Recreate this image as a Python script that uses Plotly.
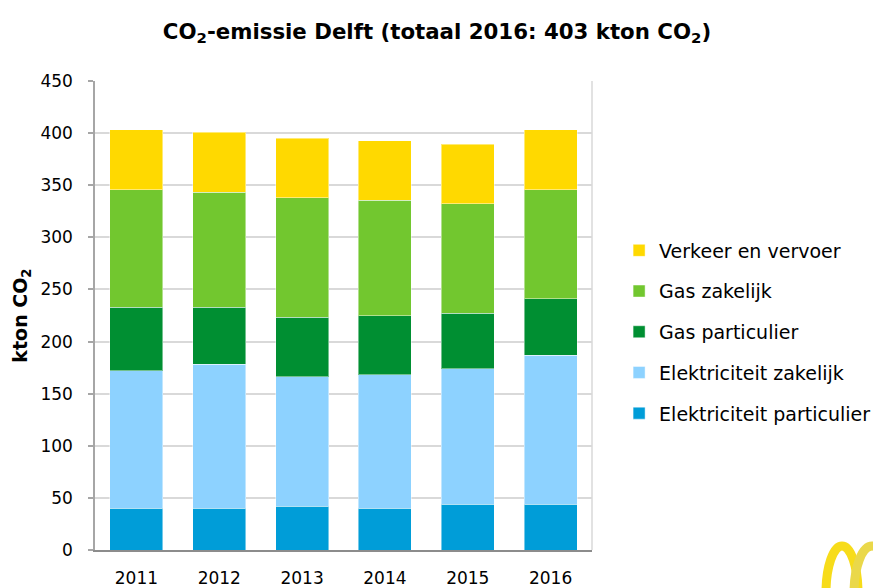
import plotly.graph_objects as go

years = ["2011", "2012", "2013", "2014", "2015", "2016"]
elek_part = [40, 40, 42, 40, 44, 44]
elek_zak = [132, 138, 124, 128, 130, 143]
gas_part = [61, 55, 57.5, 57, 53, 54]
gas_zak = [112.5, 110.5, 114.5, 110.5, 105, 104.5]
verkeer = [57.5, 57.5, 57, 57, 57.5, 57.5]

series = [
    ("Elektriciteit particulier", elek_part, "#009DD8"),
    ("Elektriciteit zakelijk", elek_zak, "#8DD2FF"),
    ("Gas particulier", gas_part, "#008F32"),
    ("Gas zakelijk", gas_zak, "#72C72F"),
    ("Verkeer en vervoer", verkeer, "#FFD900"),
]

FONT = "DejaVu Sans"

fig = go.Figure()
n = len(series)
for i, (name, vals, col) in enumerate(series):
    fig.add_trace(go.Bar(
        x=years, y=vals, name=name, legendgroup=f"g{i}", legendrank=(n - i) * 10,
        marker=dict(color=col, line=dict(color="rgba(255,255,255,0.45)", width=1)),
    ))

fig.update_layout(
    width=873, height=580,
    barmode="stack", bargap=0.36,
    plot_bgcolor="white", paper_bgcolor="white",
    margin=dict(l=87, r=289, t=73, b=38),
    font=dict(family=FONT, size=16, color="#000000"),
    title=dict(
        text="<b>CO<sub>2</sub>-emissie Delft (totaal 2016: 403 kton CO<sub>2</sub>)</b>",
        x=0.4914, xref="container", xanchor="center", y=0.960, yanchor="middle",
        font=dict(family=FONT, size=21.3, color="#000000"),
    ),
    legend=dict(
        xref="container", yref="container",
        x=0.700, xanchor="left", y=1 - 324.0 / 580, yanchor="middle",
        traceorder="grouped", tracegroupgap=13,
        font=dict(family=FONT, size=19, color="#000000"),
        itemwidth=30,
    ),
    showlegend=True,
)
fig.update_xaxes(
    automargin=False,
    showline=True, linecolor="#8C8C8C", linewidth=2,
    ticks="", ticklabelstandoff=12,
    tickfont=dict(family=FONT, size=17),
    mirror=False,
)
fig.update_yaxes(
    automargin=False,
    range=[0, 450], dtick=50, tick0=0,
    showgrid=True, gridcolor="#D9D9D9", gridwidth=1.5,
    showline=True, linecolor="#A6A6A6", linewidth=1.5,
    ticks="outside", ticklen=5, tickcolor="#A6A6A6", tickwidth=1.5,
    ticklabelstandoff=12,
    tickfont=dict(family=FONT, size=17),
    title=dict(text="<b>kton CO<sub>2</sub></b>", font=dict(family=FONT, size=19), standoff=8),
    zeroline=False,
)
fig.add_shape(type="line", xref="paper", yref="paper", x0=1, x1=1, y0=0, y1=1,
              line=dict(color="#D9D9D9", width=1.5))

# decorative logo fragment (bottom right corner)
fig.add_shape(type="circle", xref="paper", yref="paper",
              x0=1.4708, x1=1.5352, y0=-0.1919, y1=0.0085,
              line=dict(color="#F7DC1A", width=9))
fig.add_shape(type="circle", xref="paper", yref="paper",
              x0=1.5272, x1=1.5996, y0=-0.1919, y1=0.0085,
              line=dict(color="#EAD84A", width=9))

fig.write_html("out.html")
